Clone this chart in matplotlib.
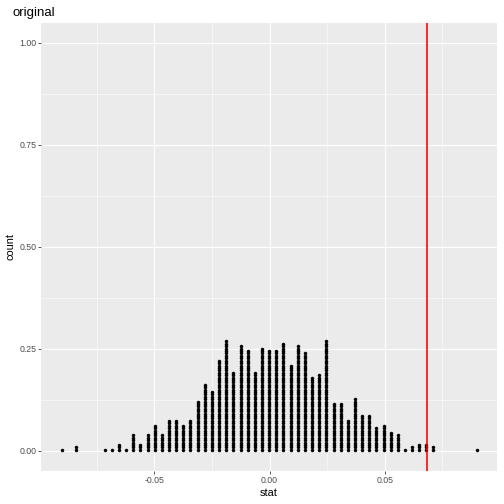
import matplotlib
matplotlib.use("Agg")
import matplotlib.pyplot as plt
from matplotlib.ticker import FixedLocator

plt.rcParams["font.family"] = ["Liberation Sans", "DejaVu Sans"]

# ---------- data ----------
# stack positions (stat) and number of dots stacked at each position
stat = [-0.0903, -0.0841, -0.0717, -0.0686, -0.0654, -0.0623, -0.0592, -0.0561,
        -0.0530, -0.0499, -0.0468, -0.0437, -0.0406, -0.0375, -0.0344, -0.0313,
        -0.0282, -0.0251, -0.0220, -0.0188, -0.0157, -0.0126, -0.0095, -0.0064,
        -0.0033, -0.0002, 0.0029, 0.0060, 0.0091, 0.0122, 0.0153, 0.0184,
        0.0215, 0.0247, 0.0278, 0.0309, 0.0340, 0.0371, 0.0402, 0.0433,
        0.0464, 0.0495, 0.0526, 0.0557, 0.0588, 0.0619, 0.0650, 0.0681,
        0.0712, 0.0899]
dots = [1, 2, 1, 1, 3, 1, 7, 3,
        7, 11, 7, 13, 13, 11, 13, 21,
        28, 25, 38, 46, 33, 44, 42, 33,
        43, 42, 42, 45, 36, 44, 41, 31,
        32, 46, 20, 20, 13, 22, 15, 15,
        10, 11, 8, 7, 1, 2, 3, 3,
        2, 1]
observed = 0.0683

x_ticks = [-0.05, 0.00, 0.05]
x_minor = [-0.075, -0.025, 0.025, 0.075]
y_ticks = [0.00, 0.25, 0.50, 0.75, 1.00]
y_minor = [0.125, 0.375, 0.625, 0.875]

# ---------- render ----------
fig = plt.figure(figsize=(7, 7), dpi=72)
ax = fig.add_axes([0.0813, 0.0647, 0.9053, 0.8905])
ax.set_facecolor("#EBEBEB")

dot_h = 0.0059  # height of one stacked dot, in count units
xs, ys = [], []
for x, n in zip(stat, dots):
    for i in range(n):
        xs.append(x)
        ys.append((i + 0.5) * dot_h)
ax.scatter(xs, ys, s=9, c="black", edgecolors="black", linewidths=0.5, zorder=3)

ax.axvline(observed, color="#FF0000", lw=1.6, zorder=4)

ax.set_xlim(-0.0993, 0.0989)
ax.set_ylim(-0.05, 1.05)
ax.set_xticks(x_ticks)
ax.set_xticklabels([f"{v:.2f}" for v in x_ticks])
ax.set_yticks(y_ticks)
ax.set_yticklabels([f"{v:.2f}" for v in y_ticks])
ax.xaxis.set_minor_locator(FixedLocator(x_minor))
ax.yaxis.set_minor_locator(FixedLocator(y_minor))
ax.grid(which="major", color="white", lw=1.1)
ax.grid(which="minor", color="white", lw=0.55)
ax.set_axisbelow(True)
ax.tick_params(which="major", length=2.75, width=0.8, color="#333333",
               labelsize=8.8, labelcolor="#4D4D4D", pad=2)
ax.tick_params(which="minor", length=0)
for s in ax.spines.values():
    s.set_visible(False)

ax.set_xlabel("stat", fontsize=11, labelpad=3)
ax.set_ylabel("count", fontsize=11, labelpad=4)
ax.set_title("original", fontsize=13.2, loc="left", x=-0.063, pad=7)

fig.savefig("out.png", dpi=72, facecolor="white")
